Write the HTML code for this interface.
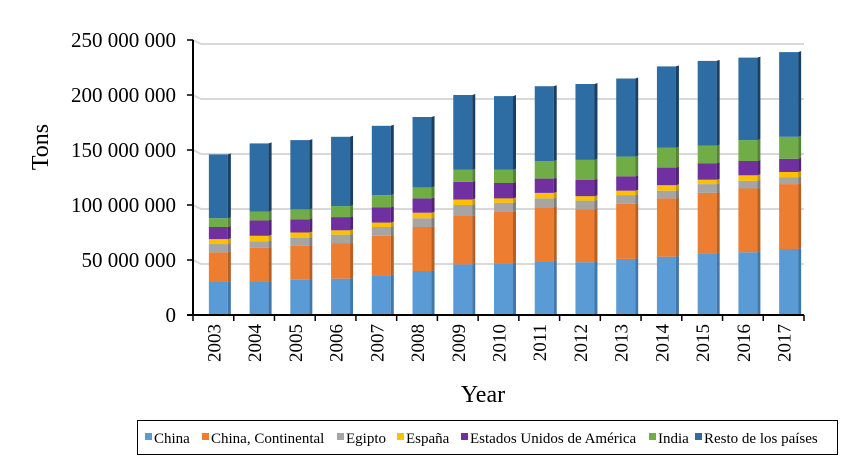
<!DOCTYPE html>
<html><head><meta charset="utf-8"><style>
body{margin:0;background:#fff;}
svg{display:block;font-family:"Liberation Serif",serif;}
</style></head><body>
<svg id="chart" width="865" height="476" viewBox="0 0 865 476">
<g id="grid"></g>
<g id="bars"></g>
<g id="axes"></g>
<text x="48" y="147" font-size="24" text-anchor="middle" transform="rotate(-90 48 147)">Tons</text>
<text x="483" y="402" font-size="24" text-anchor="middle">Year</text>
<rect x="137.5" y="420.5" width="700" height="34" fill="none" stroke="#000" stroke-width="1"/>
<g id="legend"></g>
</svg>
<script>
const years = ["2003","2004","2005","2006","2007","2008","2009","2010","2011","2012","2013","2014","2015","2016","2017"];
const seriesNames = ["China","China, Continental","Egipto","España","Estados Unidos de América","India","Resto de los países"];
const china = [30,30,32,33,36,40,46,47,49,48,51,53,56,57,60];
const chinaCont = [27,31,31,32,36,40,44,47,49,48,50,53,55,58,59];
const egipto = [7.5,6,7,8,8,8,10,8,8,8,8,7,8,7,6];
const espana = [4.5,5,5,4,4,5,5,4,5,4,4,5,4,5,5];
const usa = [11,14,12,12,14,13,16,14,13,15,13,16,15,13,12];
const india = [8,8,9,10,11,10,11,12,16,18,18,18,16,19,20];
const resto = [58,62,63,63,63,64,68,67,68,69,71,74,77,75,77];
const yTicks = [0,50,100,150,200,250];
const yTickLabels = ["0","50 000 000","100 000 000","150 000 000","200 000 000","250 000 000"];

const series = [china,chinaCont,egipto,espana,usa,india,resto];
const colors = ["#5b9bd5","#ed7d31","#a5a5a5","#ffc000","#7030a0","#70ad47","#2e6da4"];
const sides = ["#3f78ad","#b85f22","#7f7f7f","#c99700","#52217a","#538535","#1b3f63"];
const NS="http://www.w3.org/2000/svg";
const x0=193, x1=804, y0=315, ppu=1.1;
const band=(x1-x0)/years.length;
const yS=v=>y0-v*ppu;
const xS=i=>x0+band*(i+0.5);
function mk(tag,attrs,parent){const e=document.createElementNS(NS,tag);for(const k in attrs)e.setAttribute(k,attrs[k]);parent.appendChild(e);return e;}
const grid=document.getElementById('grid'), bars=document.getElementById('bars'), axes=document.getElementById('axes'), legend=document.getElementById('legend');

yTicks.forEach((t,i)=>{
  const y=yS(t);
  if(t>0){
    const g=mk('path',{d:`M${x0} ${y} L${x0+8} ${y+4} L${x1} ${y+4}`,stroke:"#d9d9d9","stroke-width":2,fill:"none"},grid);
    
    
  }
  const tk=mk('line',{x1:x0-6,x2:x0,y1:y,y2:y,stroke:"#000","stroke-width":1.5},axes);
  
  
  const tx=mk('text',{x:176,y:y+7,"font-size":21,"text-anchor":"end"},axes);
  tx.textContent=yTickLabels[i];
  
  
});

const bw=19, dep=3;
years.forEach((yr,i)=>{
  let cum=0;
  const cx=xS(i)+5;
  series.forEach((s,k)=>{
    const v=s[i];
    const yt=yS(cum+v), yb=yS(cum);
    const r=mk('rect',{x:cx-bw/2,y:yt,width:bw,height:yb-yt,fill:colors[k]},bars);
    
    
    const sd=mk('polygon',{points:`${cx+bw/2},${yt} ${cx+bw/2+dep},${yt-1} ${cx+bw/2+dep},${yb-1} ${cx+bw/2},${yb}`,fill:sides[k]},bars);
    
    
    cum+=v;
  });
  const tl=mk('text',{"font-size":19,"text-anchor":"end",transform:`translate(${xS(i)+7},324) rotate(-90)`},axes);
  tl.textContent=yr;
  
  
});
for(let i=0;i<=years.length;i++){
  const x=x0+band*i;
  const t=mk('line',{x1:x,x2:x,y1:y0,y2:y0+6,stroke:"#000","stroke-width":1.5},axes);
  
  
}
const ya=mk('line',{x1:x0,x2:x0,y1:yS(250),y2:y0,stroke:"#000","stroke-width":2},axes);


const xa=mk('line',{x1:x0-6,x2:x1,y1:y0,y2:y0,stroke:"#000","stroke-width":2},axes);



const lx=[145,202,337,397,461,649,695];
seriesNames.forEach((n,k)=>{
  const sq=mk('rect',{x:lx[k],y:433,width:7,height:7,fill:colors[k]},legend);
  
  
  const t=mk('text',{x:lx[k]+9,y:443,"font-size":15},legend);
  t.textContent=n;
  
  
});
</script>
</body></html>
